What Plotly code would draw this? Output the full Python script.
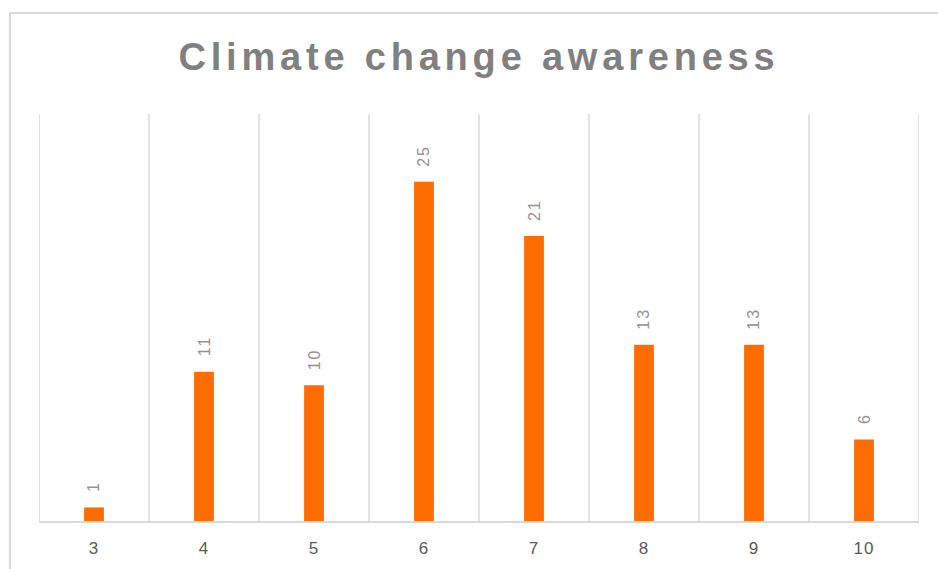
import plotly.graph_objects as go

# Awareness score (category) and number of respondents
scores = [3, 4, 5, 6, 7, 8, 9, 10]
counts = [1, 11, 10, 25, 21, 13, 13, 6]
title_text = "Climate change awareness"

BAR = "#FF6D00"
GRID = "#D9D9D9"
FONT = "Liberation Sans, Arial, sans-serif"

fig = go.Figure()
fig.add_trace(go.Bar(
    x=scores, y=counts, width=0.18,
    marker=dict(color=BAR, line=dict(width=0)),
    hoverinfo="x+y",
))

# rotated value labels above each bar
for s, c in zip(scores, counts):
    fig.add_annotation(
        x=s, y=c, text=f'<span style="letter-spacing:2px">{c}</span>',
        textangle=-90, showarrow=False, yanchor="bottom", yshift=13,
        font=dict(family=FONT, size=16, color="#939393"),
    )

# vertical separators between categories
bounds = [s - 0.5 for s in scores] + [scores[-1] + 0.5]
for b in bounds:
    fig.add_shape(type="line", xref="x", yref="paper", x0=b, x1=b, y0=0, y1=1,
                  line=dict(color=GRID, width=1.5), layer="below")

# chart frame (left and top edges)
fig.add_shape(type="line", xref="paper", yref="paper", x0=-0.033, x1=-0.033,
              y0=1.248, y1=-0.2, line=dict(color=GRID, width=2))
fig.add_shape(type="line", xref="paper", yref="paper", x0=-0.034, x1=1.1,
              y0=1.248, y1=1.248, line=dict(color=GRID, width=2))

fig.update_layout(
    width=938, height=569,
    margin=dict(l=39, r=19, t=114, b=48),
    paper_bgcolor="white", plot_bgcolor="white",
    showlegend=False,
    title=dict(
        text=f'<span style="letter-spacing:4.8px"><b>{title_text}</b></span>',
        x=0.5, xref="paper", xanchor="center",
        y=1 - 57 / 569, yref="container", yanchor="middle",
        font=dict(family=FONT, size=38, color="#808080"),
    ),
    xaxis=dict(
        range=[2.5, 10.5], tickvals=scores,
        ticktext=[f'<span style="letter-spacing:1px">{s}</span>' for s in scores],
        showgrid=False, zeroline=False, showline=True, linecolor=GRID, linewidth=2,
        ticks="", ticklabelstandoff=11,
        tickfont=dict(family=FONT, size=17, color="#595959"),
        fixedrange=True,
    ),
    yaxis=dict(range=[0, 30], showgrid=False, zeroline=False, showticklabels=False,
               showline=False, fixedrange=True),
)

fig.write_html("out.html")
